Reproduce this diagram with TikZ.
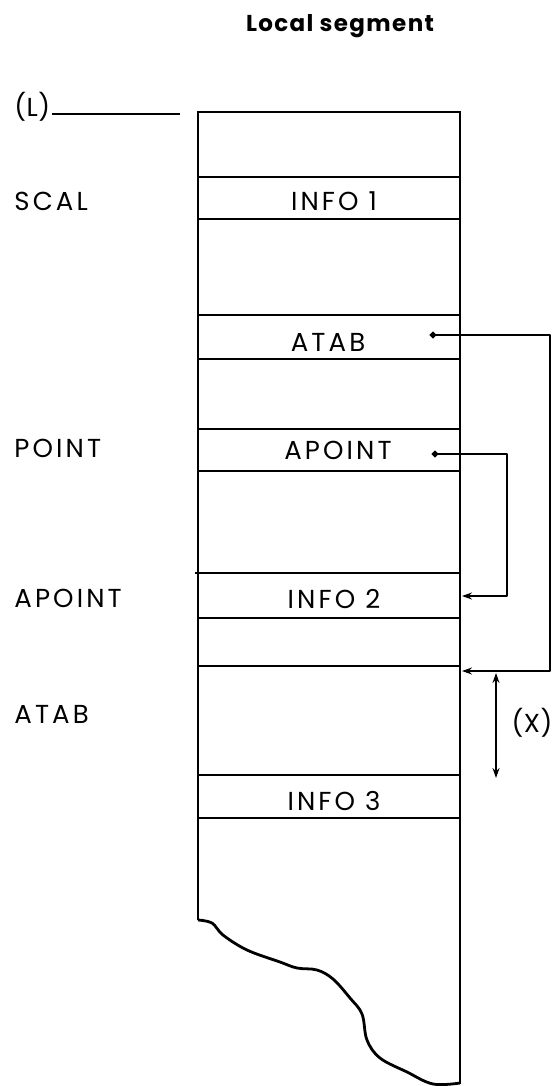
\documentclass[tikz,border=0pt]{standalone}
\usepackage{fontspec}
\setmainfont{Poppins}[LetterSpace=12]
\usepackage{tikz}
\usetikzlibrary{arrows.meta}

\begin{document}
\begin{tikzpicture}[x=1pt, y=-1pt, line width=2.8pt,
    lbl/.style={font=\fontsize{26}{30}\selectfont, inner sep=0pt},
    tight/.style={font=\fontsize{26}{30}\selectfont\addfontfeatures{LetterSpace=2}},
    ptr/.style={-{Stealth[length=10pt,width=7pt]}, line join=round}]
        \useasboundingbox (0,0) rectangle (559,1086);
        % title
        \node[lbl, font=\fontsize{23}{28}\selectfont\bfseries\addfontfeatures{LetterSpace=6}, anchor=base] (title) at (340,32) {Local segment};
        % the column
        \draw (198,920) -- (198,112) -- (460,112) -- (460,1084);
        \foreach \y in {177,219,315,359,429,471,618,666,775,818}
            \draw (198,\y) -- (460,\y);
        \draw (195,573) -- (460,573);
        \draw[line join=round] plot[smooth, tension=0.6] coordinates {(198,920) (212,923) (223,935) (247,950) (280,962) (297,968) (317,970) (333,979) (350,998) (362,1014) (367,1040) (380,1058) (407,1072) (433,1084) (460,1083)};
        % cell texts
        \node[lbl, anchor=base] (info1) at (334,211) {INFO 1};
        \node[lbl, anchor=base] (atab) at (328,351) {ATAB};
        \node[lbl, anchor=base] (apoint) at (338,459) {APOINT};
        \node[lbl, anchor=base] (info2) at (334,608) {INFO 2};
        \node[lbl, anchor=base] (info3) at (334,810) {INFO 3};
        % left labels
        \node[lbl, tight, anchor=base west] (L) at (13,117) {(L)};
        \draw (52,114) -- (180,114);
        \node[lbl, anchor=base west] (scal) at (13,210) {SCAL};
        \node[lbl, anchor=base west] (point) at (13,457) {POINT};
        \node[lbl, anchor=base west] (apointl) at (13,607) {APOINT};
        \node[lbl, anchor=base west] (atabl) at (13,723) {ATAB};
        % pointers
        \coordinate (a0) at (433,335);
        \coordinate (a1) at (462,671);
        \coordinate (p0) at (435,454);
        \coordinate (p1) at (462,596);
        \filldraw (a0) circle (1.6pt);
        \filldraw (p0) circle (1.6pt);
        \draw[ptr] (a0) -- (550,335) -- (550,671) -- (a1);
        \draw[ptr] (p0) -- (507,454) -- (507,596) -- (p1);
        % extent (X)
        \coordinate (x0) at (496,673);
        \coordinate (x1) at (496,778);
        \draw[{Stealth[length=10pt,width=7pt]}-{Stealth[length=10pt,width=7pt]}, line width=2.2pt] (x0) -- (x1);
        \node[lbl, tight, anchor=base] (X) at (532,732) {(X)};
\end{tikzpicture}
\end{document}
